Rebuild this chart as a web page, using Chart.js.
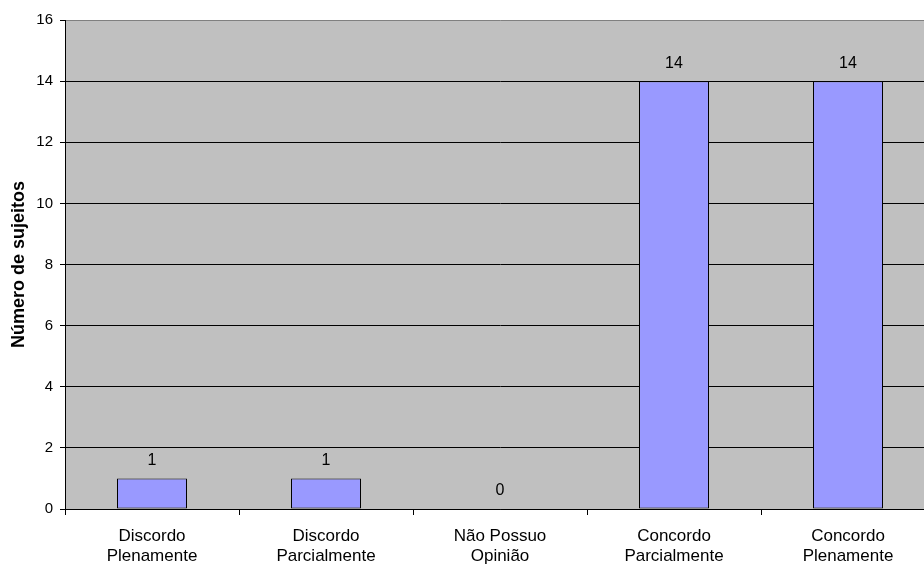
<!DOCTYPE html>
<html>
<head>
<meta charset="utf-8">
<script src="https://cdn.jsdelivr.net/npm/chart.js@4.4.1/dist/chart.umd.min.js"></script>
<style>
  html, body { margin: 0; padding: 0; background: #fff; overflow: hidden; width: 924px; height: 568px; }
  #wrap { width: 936px; height: 568px; }
</style>
</head>
<body>
<div id="wrap"><canvas id="c" width="936" height="568"></canvas></div>
<script>
const categories = [
  ['Discordo', 'Plenamente'],
  ['Discordo', 'Parcialmente'],
  ['Não Possuo', 'Opinião'],
  ['Concordo', 'Parcialmente'],
  ['Concordo', 'Plenamente']
];
const values = [1, 1, 0, 14, 14];
const yTicks = [0, 2, 4, 6, 8, 10, 12, 14, 16];
const yTitle = 'Número de sujeitos';

const FONT = "'Liberation Sans', Arial, sans-serif";

const bgPlugin = {
  id: 'bg',
  beforeDraw(chart) {
    const a = chart.chartArea, ctx = chart.ctx;
    ctx.save();
    ctx.fillStyle = '#C0C0C0';
    ctx.fillRect(a.left, a.top, a.right - a.left, a.bottom - a.top);
    ctx.restore();
  }
};

const labelPlugin = {
  id: 'vals',
  afterDatasetsDraw(chart) {
    const ctx = chart.ctx;
    const meta = chart.getDatasetMeta(0);
    ctx.save();
    ctx.font = '16px ' + FONT;
    ctx.fillStyle = '#000';
    ctx.textAlign = 'center';
    ctx.textBaseline = 'middle';
    meta.data.forEach((bar, i) => {
      ctx.fillText(String(values[i]), bar.x, bar.y - 18);
    });
    ctx.restore();
  }
};

new Chart(document.getElementById('c'), {
  type: 'bar',
  data: {
    labels: categories,
    datasets: [{
      data: values,
      backgroundColor: '#9999FF',
      borderColor: '#000',
      borderWidth: 1,
      borderSkipped: false,
      barPercentage: 70 / 174,
      categoryPercentage: 1.0
    }]
  },
  options: {
    responsive: false,
    animation: false,
    devicePixelRatio: 1,
    layout: { padding: { top: 20, left: 0, right: 1, bottom: 0 } },
    plugins: { legend: { display: false }, tooltip: { enabled: false } },
    scales: {
      x: {
        offset: true,
        grid: { offset: true, drawOnChartArea: false, drawTicks: true, tickLength: 6, color: '#000' },
        border: { color: '#000', width: 1 },
        ticks: { color: '#000', font: { family: FONT, size: 17, lineHeight: 1.15 }, padding: 12, maxRotation: 0, autoSkip: false },
        afterFit(s) { s.height = 59; }
      },
      y: {
        min: 0, max: 16,
        afterBuildTicks(s) { s.ticks = yTicks.map(v => ({ value: v })); },
        grid: {
          color: (c) => (c.tick && c.tick.value === 16) ? '#808080' : '#000',
          tickColor: '#000',
          tickLength: 5,
          lineWidth: 1
        },
        border: { color: '#000', width: 1 },
        ticks: { color: '#000', font: { family: FONT, size: 15 }, padding: 7 },
        title: { display: true, text: yTitle, color: '#000', font: { family: FONT, size: 18, weight: 'bold' }, padding: { top: 8, bottom: 0 } },
        afterFit(s) { s.width = 65; }
      }
    }
  },
  plugins: [bgPlugin, labelPlugin]
});
</script>
</body>
</html>
